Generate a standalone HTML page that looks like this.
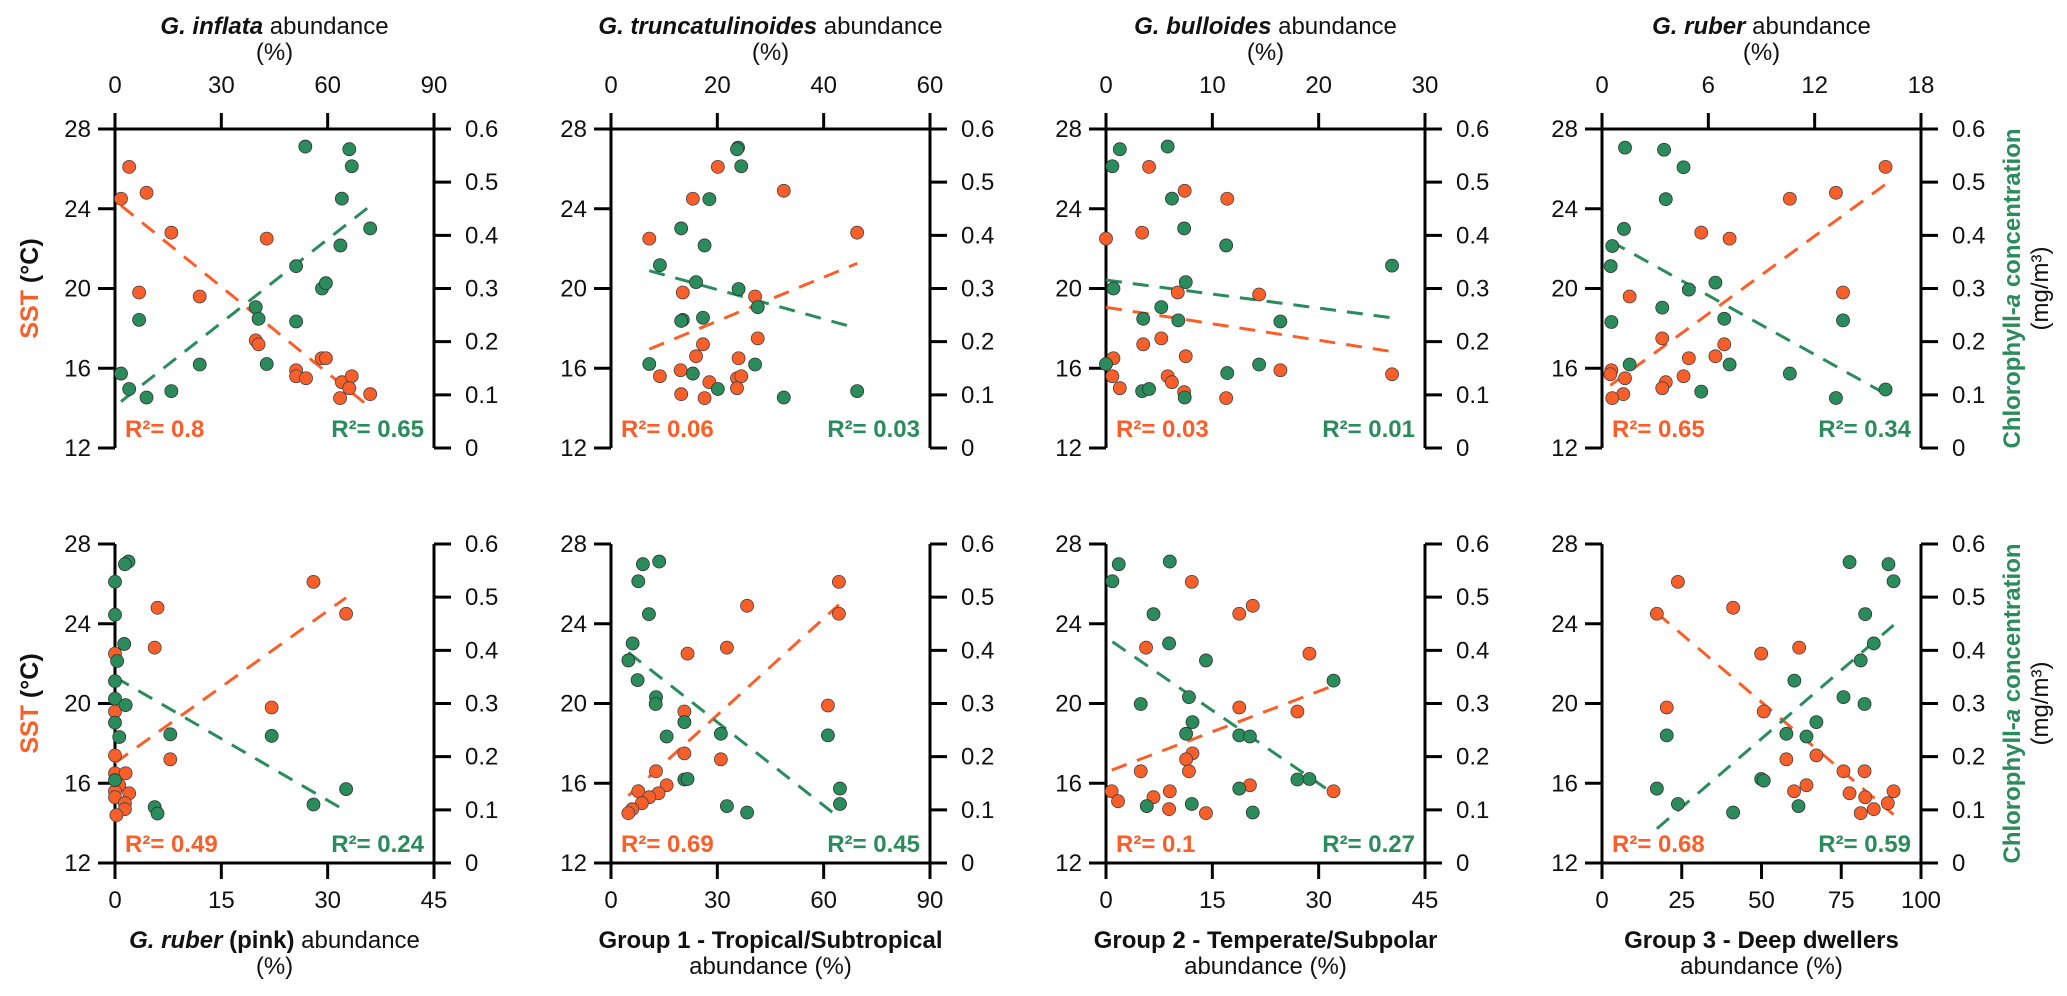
<!DOCTYPE html>
<html><head><meta charset="utf-8"><style>
html,body{margin:0;padding:0;background:#fff;}
svg{display:block;font-family:"Liberation Sans",Arial,sans-serif;}
</style></head><body>
<svg id="chart" width="2067" height="996" viewBox="0 0 2067 996" xmlns="http://www.w3.org/2000/svg"></svg>
<script>
// ---------- data ----------
const p1_ox=[4.0,1.7,8.9,15.9,42.8,6.8,23.9,39.7,40.5,58.3,59.5,51.1,51.1,53.9,64.0,66.8,66.1,63.5,72.0];
const p1_oy=[26.1,24.5,24.8,22.8,22.5,19.8,19.6,17.4,17.2,16.5,16.5,15.9,15.6,15.5,15.3,15.6,15.0,14.5,14.7];
const p1_gx=[53.7,66.1,66.8,64.0,72.0,63.6,51.1,58.4,59.5,39.7,40.5,51.1,6.8,23.9,42.8,1.7,4.0,8.9,15.9];
const p1_gy=[0.567,0.562,0.530,0.469,0.413,0.381,0.342,0.300,0.310,0.265,0.243,0.238,0.241,0.157,0.158,0.140,0.111,0.095,0.107];

const p2_ox=[20.1,32.5,15.4,46.3,7.2,27.1,13.5,27.6,17.3,16.0,24.0,13.1,9.2,23.7,24.5,18.5,23.7,13.2,17.6];
const p2_oy=[26.1,24.9,24.5,22.8,22.5,19.6,19.8,17.5,17.2,16.6,16.5,15.9,15.6,15.5,15.6,15.3,15.0,14.7,14.5];
const p2_gx=[23.9,23.7,24.5,18.5,13.2,17.6,9.2,16.0,24.0,27.6,13.5,13.2,17.3,7.2,27.1,15.4,20.1,32.5,46.3];
const p2_gy=[0.565,0.562,0.530,0.468,0.413,0.381,0.344,0.312,0.299,0.265,0.241,0.239,0.245,0.158,0.157,0.140,0.111,0.095,0.107];

const p3_ox=[4.05,7.4,11.4,0,3.4,14.4,6.75,5.2,3.5,7.5,0.7,16.4,0.6,5.8,6.2,1.3,7.35,11.3,26.9];
const p3_oy=[26.1,24.9,24.5,22.5,22.8,19.7,19.8,17.5,17.2,16.6,16.5,15.9,15.6,15.6,15.3,15.0,14.8,14.5,15.7];
const p3_gx=[1.3,5.8,0.6,6.2,7.35,11.3,26.9,7.5,0.7,5.2,3.5,6.8,16.4,0,14.4,11.4,3.4,4.05,7.4];
const p3_gy=[0.562,0.567,0.530,0.469,0.413,0.381,0.343,0.312,0.300,0.265,0.243,0.240,0.238,0.158,0.157,0.141,0.107,0.111,0.095];

const p4_ox=[16.0,13.2,10.6,5.6,7.2,1.56,13.6,3.4,6.9,4.9,6.4,0.53,0.47,1.3,3.6,3.4,4.6,1.2,0.58];
const p4_oy=[26.1,24.8,24.5,22.8,22.5,19.6,19.8,17.5,17.2,16.5,16.6,15.9,15.7,15.5,15.3,15.0,15.6,14.7,14.5];
const p4_gx=[1.3,3.5,4.6,3.6,1.24,0.58,0.49,6.4,4.9,3.4,6.9,13.6,0.53,1.56,7.2,10.6,5.6,13.2,16.0];
const p4_gy=[0.565,0.561,0.528,0.468,0.412,0.380,0.342,0.311,0.298,0.264,0.243,0.240,0.237,0.157,0.157,0.140,0.106,0.094,0.110];

const p5_ox=[28.0,32.6,6.0,5.6,0,22.1,0,7.8,0,0,1.5,0.6,0,0,2.0,1.4,1.4,0.2];
const p5_oy=[26.1,24.5,24.8,22.8,22.5,19.8,19.6,17.2,17.4,16.5,16.5,15.9,15.6,15.3,15.5,15.0,14.7,14.4];
const p5_gx=[1.9,1.4,0,0,1.3,0.3,0,0,1.5,0,0.6,7.8,22.1,0,32.6,28.0,5.6,6.0];
const p5_gy=[0.567,0.562,0.529,0.467,0.412,0.380,0.342,0.309,0.297,0.264,0.237,0.242,0.239,0.156,0.139,0.110,0.105,0.093];

const p6_ox=[64.3,38.4,64.3,32.7,21.6,61.2,20.7,20.7,31.0,12.7,15.7,7.7,13.4,10.8,8.7,6.0,4.9];
const p6_oy=[26.1,24.9,24.5,22.8,22.5,19.9,19.6,17.5,17.2,16.6,15.9,15.6,15.5,15.3,15.0,14.7,14.5];
const p6_gx=[9.0,13.6,7.7,10.7,6.1,4.9,7.5,12.7,12.6,20.7,31.0,61.2,15.7,20.7,21.6,64.6,64.6,32.7,38.4];
const p6_gy=[0.562,0.567,0.530,0.468,0.413,0.381,0.344,0.312,0.299,0.265,0.243,0.240,0.238,0.157,0.158,0.140,0.111,0.107,0.095];

const p7_ox=[12.1,20.7,18.8,5.65,28.7,18.8,27.0,12.2,11.3,11.7,4.9,20.3,0.8,9.0,32.1,6.7,1.7,8.9,14.1];
const p7_oy=[26.1,24.9,24.5,22.8,22.5,19.8,19.6,17.5,17.2,16.6,16.6,15.9,15.6,15.6,15.6,15.3,15.1,14.7,14.5];
const p7_gx=[1.8,9.0,0.9,6.7,8.9,14.1,32.1,11.7,4.9,12.2,11.3,18.8,20.3,27.0,28.7,18.8,12.1,5.75,20.7];
const p7_gy=[0.562,0.567,0.530,0.468,0.413,0.381,0.343,0.312,0.299,0.265,0.243,0.240,0.238,0.157,0.158,0.140,0.111,0.107,0.095];

const p8_ox=[23.8,17.2,41.1,49.9,61.8,20.3,50.7,67.2,57.8,75.7,82.3,64.1,60.2,77.6,91.4,82.5,89.6,85.2,81.1];
const p8_oy=[26.1,24.5,24.8,22.5,22.8,19.8,19.6,17.4,17.2,16.6,16.6,15.9,15.6,15.5,15.6,15.3,15.0,14.7,14.5];
const p8_gx=[77.6,89.8,91.4,82.5,85.2,81.1,60.3,75.7,82.3,67.2,57.8,64.1,20.3,49.9,50.7,17.2,23.8,41.1,61.6];
const p8_gy=[0.566,0.562,0.530,0.468,0.413,0.381,0.343,0.312,0.299,0.265,0.243,0.238,0.240,0.158,0.155,0.140,0.111,0.095,0.107];

const r2Orange=["0.8","0.06","0.03","0.65","0.49","0.69","0.1","0.68"];
const r2Green=["0.65","0.03","0.01","0.34","0.24","0.45","0.27","0.59"];
const xTicksTop=[[0,30,60,90],[0,20,40,60],[0,10,20,30],[0,6,12,18]];
const xTicksBottom=[[0,15,30,45],[0,30,60,90],[0,15,30,45],[0,25,50,75,100]];
const sstTicks=[12,16,20,24,28];
const chlTicks=[0,0.1,0.2,0.3,0.4,0.5,0.6];
const chlTickLabels=["0","0.1","0.2","0.3","0.4","0.5","0.6"];

// ---------- layout ----------
const NS="http://www.w3.org/2000/svg";
const svg=document.getElementById('chart');
const OR="#FA5F2A", GR="#2B8C5B";
const lefts=[115,611,1106,1602], W=319, rowTop=[129,544], H=319;
const FS=24;
function mk(tag,attrs,parent){const e=document.createElementNS(NS,tag);for(const k in attrs)e.setAttribute(k,attrs[k]);(parent||svg).appendChild(e);return e;}
function txt(parent,x,y,s,opts){const t=mk('text',Object.assign({x:x,y:y,'font-size':FS,fill:'#111'},opts||{}),parent);t.textContent=s;return t;}
function fit(xs,ys){const n=xs.length;let mx=0,my=0;for(let i=0;i<n;i++){mx+=xs[i];my+=ys[i];}mx/=n;my/=n;let sxy=0,sxx=0;for(let i=0;i<n;i++){sxy+=(xs[i]-mx)*(ys[i]-my);sxx+=(xs[i]-mx)**2;}const b=sxy/sxx;return [my-b*mx,b];}

const panels=[
 {ox:p1_ox,oy:p1_oy,gx:p1_gx,gy:p1_gy,xmax:90},
 {ox:p2_ox,oy:p2_oy,gx:p2_gx,gy:p2_gy,xmax:60},
 {ox:p3_ox,oy:p3_oy,gx:p3_gx,gy:p3_gy,xmax:30},
 {ox:p4_ox,oy:p4_oy,gx:p4_gx,gy:p4_gy,xmax:18},
 {ox:p5_ox,oy:p5_oy,gx:p5_gx,gy:p5_gy,xmax:45},
 {ox:p6_ox,oy:p6_oy,gx:p6_gx,gy:p6_gy,xmax:90},
 {ox:p7_ox,oy:p7_oy,gx:p7_gx,gy:p7_gy,xmax:45},
 {ox:p8_ox,oy:p8_oy,gx:p8_gx,gy:p8_gy,xmax:100}
];
const topTitles=[["G. inflata"," abundance"],["G. truncatulinoides"," abundance"],["G. bulloides"," abundance"],["G. ruber"," abundance"]];

panels.forEach((p,i)=>{
 const row=i<4?0:1, col=i%4;
 const L=lefts[col], R=L+W, T=rowTop[row], B=T+H;
 const g=mk('g',{});
 
 
 const xs=v=>L+v/p.xmax*W;
 const ySst=v=>B-(v-12)/16*H;
 const yChl=v=>B-v/0.6*H;
 const ax=mk('g',{stroke:'#000','stroke-width':3,fill:'none','stroke-linecap':'butt'},g);
 
 
 mk('line',{x1:L,y1:T,x2:L,y2:B},ax);
 mk('line',{x1:R,y1:T,x2:R,y2:B},ax);
 const hy=row===0?T:B;
 mk('line',{x1:L,y1:hy,x2:R,y2:hy},ax);
 sstTicks.forEach(v=>{mk('line',{x1:L-17,y1:ySst(v),x2:L,y2:ySst(v)},ax);
   const t=txt(g,L-24,ySst(v)+8,String(v),{'text-anchor':'end'});
   
   });
 chlTicks.forEach((v,k)=>{mk('line',{x1:R,y1:yChl(v),x2:R+17,y2:yChl(v)},ax);
   const t=txt(g,R+31,yChl(v)+8,chlTickLabels[k],{});
   
   });
 const xt=row===0?xTicksTop[col]:xTicksBottom[col];
 xt.forEach(v=>{const x=xs(v);
   if(row===0){mk('line',{x1:x,y1:T-16,x2:x,y2:T},ax);}
   else{mk('line',{x1:x,y1:B,x2:x,y2:B+16},ax);}
   const t=txt(g,x,row===0?T-36:B+45,String(v),{'text-anchor':'middle'});
   
   });
 [[p.ox,p.oy,OR,ySst],[p.gx,p.gy,GR,yChl]].forEach(([X,Y,c,yf])=>{
   const [a,b]=fit(X,Y);const x0=Math.min(...X),x1=Math.max(...X);
   const ln=mk('line',{x1:xs(x0),y1:yf(a+b*x0),x2:xs(x1),y2:yf(a+b*x1),stroke:c,'stroke-width':3,'stroke-dasharray':'16 11'},g);
   
   
 });
 p.ox.forEach((v,k)=>{const c=mk('circle',{cx:xs(v),cy:ySst(p.oy[k]),r:6.5,fill:OR,stroke:'#444','stroke-width':0.8},g);
   
   });
 p.gx.forEach((v,k)=>{const c=mk('circle',{cx:xs(v),cy:yChl(p.gy[k]),r:6.5,fill:GR,stroke:'#333','stroke-width':0.8},g);
   
   });
 const ro=txt(g,L+10,B-11,'R²= '+r2Orange[i],{fill:OR,'font-weight':'bold','font-size':24});
 
 
 const rg=txt(g,R-10,B-11,'R²= '+r2Green[i],{fill:GR,'font-weight':'bold','font-size':24,'text-anchor':'end'});
 
 
 const cx=L+W/2;
 if(row===0){
   const t1=mk('text',{x:cx,y:34,'font-size':FS,'text-anchor':'middle',fill:'#111'},g);
   
   
   const a=mk('tspan',{'font-weight':'bold','font-style':'italic'},t1);a.textContent=topTitles[col][0];
   const b=mk('tspan',{},t1);b.textContent=topTitles[col][1];
   txt(g,cx,60,'(%)',{'text-anchor':'middle'});
 } else {
   const t1=mk('text',{x:cx,y:948,'font-size':FS,'text-anchor':'middle',fill:'#111'},g);
   
   
   if(col===0){
     const a=mk('tspan',{'font-weight':'bold','font-style':'italic'},t1);a.textContent='G. ruber';
     const b=mk('tspan',{'font-weight':'bold'},t1);b.textContent=' (pink)';
     const c=mk('tspan',{},t1);c.textContent=' abundance';
     txt(g,cx,974,'(%)',{'text-anchor':'middle'});
   } else {
     const names=['','Group 1 - Tropical/Subtropical','Group 2 - Temperate/Subpolar','Group 3 - Deep dwellers'];
     const a=mk('tspan',{'font-weight':'bold'},t1);a.textContent=names[col];
     txt(g,cx,974,'abundance (%)',{'text-anchor':'middle'});
   }
 }
 const cy=T+H/2;
 if(col===0){
   const t=mk('text',{x:0,y:0,'font-size':25,'text-anchor':'middle','font-weight':'bold',transform:`translate(38,${cy}) rotate(-90)`},g);
   
   
   const a=mk('tspan',{fill:OR},t);a.textContent='SST ';
   const b=mk('tspan',{fill:'#111'},t);b.textContent='(°C)';
 }
 if(col===3){
   const t=mk('text',{x:0,y:0,'font-size':24,'text-anchor':'middle','font-weight':'bold',fill:GR,transform:`translate(2020,${cy}) rotate(-90)`},g);
   
   
   const a=mk('tspan',{},t);a.textContent='Chlorophyll-';
   const b=mk('tspan',{'font-style':'italic'},t);b.textContent='a';
   const c=mk('tspan',{},t);c.textContent=' concentration';
   const u=mk('text',{x:0,y:0,'font-size':24,'text-anchor':'middle',fill:'#111',transform:`translate(2048,${cy}) rotate(-90)`},g);
   
   
   u.textContent='(mg/m³)';
 }
});
</script>
</body></html>
